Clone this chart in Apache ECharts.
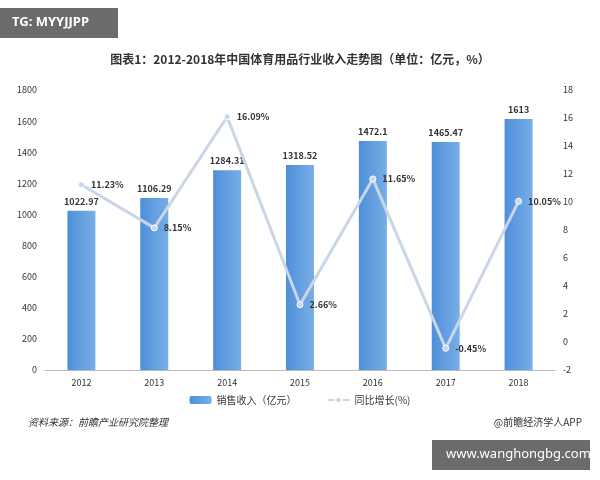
<!DOCTYPE html>
<html><head><meta charset="utf-8">
<script src="https://cdn.jsdelivr.net/npm/echarts@6/dist/echarts.min.js"></script>
<style>body{margin:0;background:#fff}#c{width:600px;height:480px}</style>
</head><body><div id="c"></div>
<script>
const years=['2012','2013','2014','2015','2016','2017','2018'];
const revenue=[1022.97,1106.29,1284.31,1318.52,1472.1,1465.47,1613];
const growth=[11.23,8.15,16.09,2.66,11.65,-0.45,10.05];
const chart=echarts.init(document.getElementById('c'));
const F='"Noto Sans CJK SC","Noto Sans",sans-serif';
chart.setOption({
  animation:false,
  textStyle:{fontFamily:F},
  title:{text:'图表1：2012-2018年中国体育用品行业收入走势图（单位：亿元，%）',left:'center',top:48,
    textStyle:{fontSize:12,fontWeight:'bold',color:'#333',fontFamily:F}},
  graphic:[
    {type:'rect',left:0,top:8,shape:{width:118,height:30},style:{fill:'#6b6b6b'}},
    {type:'text',left:12,top:16,style:{text:'TG: MYYJJPP',fill:'#fff',font:'bold 13px "Noto Sans"'}},
    {type:'text',left:28,top:417,style:{text:'资料来源：前瞻产业研究院整理',fill:'#333',font:'italic 10px "Noto Sans CJK SC"'}},
    {type:'text',right:18,top:417,style:{text:'@前瞻经济学人APP',fill:'#333',font:'10px "Noto Sans CJK SC"'}},
    {type:'rect',left:432,top:440,shape:{width:158,height:30},style:{fill:'#6b6b6b'}},
    {type:'text',left:446,top:448,style:{text:'www.wanghongbg.com',fill:'#fff',font:'13px "Noto Sans"'}}
  ],
  legend:{bottom:70,itemWidth:22,itemHeight:8,itemGap:30,textStyle:{fontSize:10,color:'#333'},
    data:['销售收入（亿元）','同比增长(%)']},
  grid:{left:45,right:45,top:90,bottom:110},
  xAxis:{type:'category',data:years,axisTick:{show:false},axisLine:{lineStyle:{color:'#bbb'}},
    axisLabel:{fontSize:9,color:'#333'}},
  yAxis:[
    {type:'value',min:0,max:1800,interval:200,splitLine:{show:false},axisLine:{show:false},axisTick:{show:false},
      axisLabel:{fontSize:9,color:'#333',formatter:v=>String(v)}},
    {type:'value',min:-2,max:18,interval:2,splitLine:{show:false},axisLine:{show:false},axisTick:{show:false},
      axisLabel:{fontSize:9,color:'#333'}}
  ],
  series:[
    {name:'销售收入（亿元）',type:'bar',data:revenue,barWidth:28,
      itemStyle:{color:new echarts.graphic.LinearGradient(0,0,1,0,[{offset:0,color:'#4f8fd8'},{offset:1,color:'#78aee8'}])},
      label:{show:true,position:'top',fontSize:9,fontWeight:'bold',color:'#333'}},
    {name:'同比增长(%)',type:'line',yAxisIndex:1,data:growth,symbol:'circle',symbolSize:6,
      lineStyle:{color:'#c9d5e8',width:3},itemStyle:{color:'#c9d5e8',borderColor:'#fff',borderWidth:1},
      label:{show:true,position:'right',distance:6,fontSize:9,fontWeight:'bold',color:'#333',formatter:p=>p.value.toFixed(2)+'%'}}
  ]
});
</script></body></html>
